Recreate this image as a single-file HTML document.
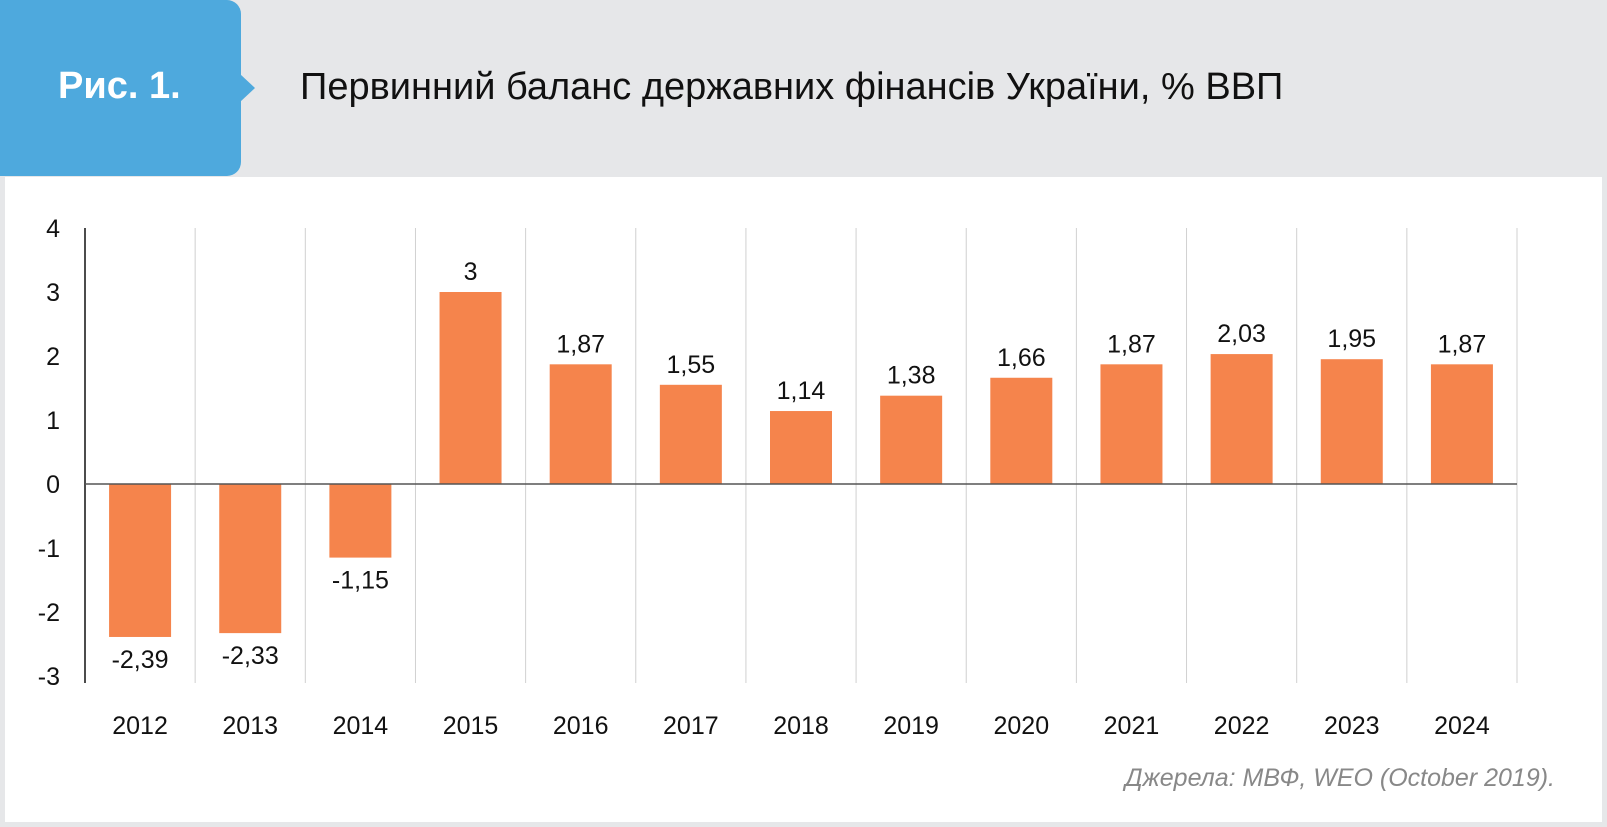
<!DOCTYPE html>
<html><head><meta charset="utf-8"><style>
body{margin:0;width:1607px;height:827px;background:#e6e7e9;position:relative;overflow:hidden;font-family:"Liberation Sans",sans-serif}
#panel{position:absolute;left:5px;top:177px;width:1597px;height:645px;background:#fff}
#badge{position:absolute;left:0;top:0;width:241px;height:176px;background:#4ea9dd;border-radius:0 14px 14px 0}
#arrow{position:absolute;left:240px;top:74px;width:0;height:0;border-top:14px solid transparent;border-bottom:14px solid transparent;border-left:15px solid #4ea9dd}
#badge span{position:absolute;left:58px;top:65px;color:#fff;font-weight:bold;font-size:38px}
#title{position:absolute;left:300px;top:66px;font-size:38px;color:#111}
#src{position:absolute;right:52px;top:764px;font-size:25px;font-style:italic;color:#888}
svg{position:absolute;left:0;top:0}
</style></head><body>
<div id="panel"></div>
<div id="badge"><span>Рис. 1.</span></div>
<div id="arrow"></div>
<div id="title">Первинний баланс державних фінансів України, % ВВП</div>
<div id="src">Джерела: МВФ, WEO (October 2019).</div>
<svg id="chart" width="1607" height="827"></svg>
<script>
const categories=["2012","2013","2014","2015","2016","2017","2018","2019","2020","2021","2022","2023","2024"];
const values=[-2.39,-2.33,-1.15,3,1.87,1.55,1.14,1.38,1.66,1.87,2.03,1.95,1.87];
const labels=["-2,39","-2,33","-1,15","3","1,87","1,55","1,14","1,38","1,66","1,87","2,03","1,95","1,87"];
const yTicks=[4,3,2,1,0,-1,-2,-3];
const svg=document.getElementById('chart');const NS='http://www.w3.org/2000/svg';
const x0=85,x1=1517,yTop=228,yBot=676;
const step=(x1-x0)/categories.length;
const y=v=>484-v*64;
function mk(t,a,p){const e=document.createElementNS(NS,t);for(const k in a)e.setAttribute(k,a[k]);(p||svg).appendChild(e);return e;}
for(let i=1;i<=categories.length;i++){const l=mk('line',{x1:x0+i*step,x2:x0+i*step,y1:yTop,y2:683,stroke:'#d0d0d0','stroke-width':1});

}
const ax=mk('line',{x1:x0,x2:x0,y1:yTop,y2:683,stroke:'#111','stroke-width':1.5});


yTicks.forEach(t=>{const e=mk('text',{x:60,y:y(t)+9,'text-anchor':'end','font-size':25,fill:'#111','font-family':'Liberation Sans'});e.textContent=t;

});
categories.forEach((c,i)=>{const cx=x0+step*(i+0.5),v=values[i];
const r=mk('rect',{x:cx-31,width:62,y:Math.min(y(v),y(0)),height:Math.abs(y(v)-y(0)),fill:'#f5844c'});


const t=mk('text',{x:cx,y:v>=0?y(v)-12:y(v)+31,'text-anchor':'middle','font-size':25,fill:'#111','font-family':'Liberation Sans'});t.textContent=labels[i];


const xl=mk('text',{x:cx,y:734,'text-anchor':'middle','font-size':25,fill:'#111','font-family':'Liberation Sans'});xl.textContent=c;

});
const z=mk('line',{x1:x0,x2:x1,y1:y(0),y2:y(0),stroke:'#555','stroke-width':1.5});


</script>
</body></html>
